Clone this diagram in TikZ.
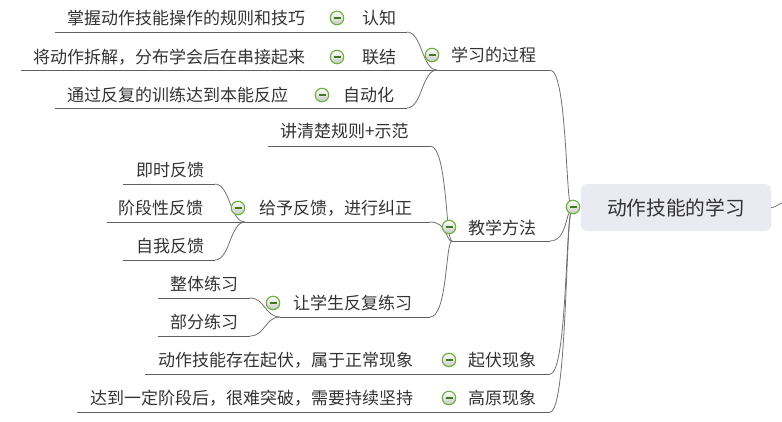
\documentclass[tikz,border=0pt]{standalone}
\usepackage{fontspec}
\newfontfamily\cjk{Noto Sans CJK SC}
\definecolor{txt}{HTML}{333333}
\definecolor{linec}{HTML}{707070}
\definecolor{ulinec}{HTML}{606060}
\definecolor{toggreen}{HTML}{6AB23A}
\definecolor{minusc}{HTML}{3F7A22}
\definecolor{rootfill}{HTML}{EAEAF2}
\begin{document}
\begin{tikzpicture}[x=1pt,y=-1pt,
  lbl/.style={anchor=west, inner sep=0pt, font=\cjk\fontsize{17}{20}\selectfont, text=txt},
  uline/.style={draw=ulinec, line width=0.9pt},
  conn/.style={draw=linec, line width=0.8pt},
  tog/.style={circle, minimum size=13.5pt, inner sep=0pt, draw=toggreen, line width=1.1pt,
    top color=white, bottom color=black!22,
    path picture={\draw[minusc, line width=1.2pt]
      ([xshift=-3.5pt]path picture bounding box.center) -- ([xshift=3.5pt]path picture bounding box.center);}},
  rootbox/.style={rounded corners=6pt, fill=rootfill, minimum width=190pt, minimum height=47pt,
    inner sep=0pt, font=\cjk\fontsize{19.7}{22}\selectfont, text=txt},
]
\useasboundingbox (0,0) rectangle (782,421);

% ---------- coordinates (underline ends, join points) ----------
\coordinate (R)  at (572,210);
\coordinate (J1) at (437,70);
\coordinate (J2) at (452,241);
\coordinate (J3) at (245,222);
\coordinate (J4) at (280,317);
\coordinate (s1E) at (550,70);
\coordinate (s2E) at (550,241);
\coordinate (s3E) at (550,374);
\coordinate (s4E) at (550,412);
\coordinate (u1L) at (55,32);   \coordinate (u1E) at (407,32);
\coordinate (u2L) at (21,70);
\coordinate (u3L) at (55,108);  \coordinate (u3E) at (407,108);
\coordinate (u4L) at (268,146); \coordinate (u4E) at (430,146);
\coordinate (u5L) at (107,222); \coordinate (u5E) at (430,222);
\coordinate (u6L) at (123,184); \coordinate (u6E) at (215,184);
\coordinate (u7L) at (123,260); \coordinate (u7E) at (215,260);
\coordinate (u8E) at (430,317);
\coordinate (u9L) at (158,298); \coordinate (u9E) at (250,298);
\coordinate (u10L) at (158,336); \coordinate (u10E) at (250,336);
\coordinate (u11L) at (145,374);
\coordinate (u12L) at (77,412);
\coordinate (off) at (782,203);

% ---------- root ----------
\node[rootbox] (root) at (676,207.5) {动作技能的学习};
\draw[conn] (root.east) .. controls +(5,0) and +(-5,1.5) .. (off);

% ---------- level 1 connectors ----------
\draw[uline] (J1) -- (s1E);
\draw[conn] (s1E) .. controls +(17.6,0) and +(-6.6,0) .. (R);
\draw[uline] (J2) -- (s2E);
\draw[conn] (s2E) .. controls +(17.6,0) and +(-6.6,0) .. (R);
\draw[uline] (u11L) -- (s3E);
\draw[conn] (s3E) .. controls +(17.6,0) and +(-6.6,0) .. (R);
\draw[uline] (u12L) -- (s4E);
\draw[conn] (s4E) .. controls +(17.6,0) and +(-6.6,0) .. (R);

% ---------- 学习的过程 ----------
\draw[uline] (u1L) -- (u1E);
\draw[conn] (u1E) .. controls +(15,0) and +(-15,0) .. (J1);
\draw[uline] (u2L) -- (J1);
\draw[uline] (u3L) -- (u3E);
\draw[conn] (u3E) .. controls +(15,0) and +(-15,0) .. (J1);

% ---------- 教学方法 ----------
\draw[uline] (u4L) -- (u4E);
\draw[conn] (u4E) .. controls +(17.6,0) and +(-6.6,0) .. (J2);
\draw[uline] (u5L) -- (u5E);
\draw[conn] (u5E) .. controls +(17.6,0) and +(-6.6,0) .. (J2);
\draw[uline] (J4) -- (u8E);
\draw[conn] (u8E) .. controls +(17.6,0) and +(-6.6,0) .. (J2);

% ---------- 给予反馈 ----------
\draw[uline] (u6L) -- (u6E);
\draw[conn] (u6E) .. controls +(15,0) and +(-15,0) .. (J3);
\draw[uline] (u7L) -- (u7E);
\draw[conn] (u7E) .. controls +(15,0) and +(-15,0) .. (J3);

% ---------- 让学生反复练习 ----------
\draw[uline] (u9L) -- (u9E);
\draw[conn] (u9E) .. controls +(15,0) and +(-15,0) .. (J4);
\draw[uline] (u10L) -- (u10E);
\draw[conn] (u10E) .. controls +(15,0) and +(-15,0) .. (J4);

% ---------- texts ----------
\node[lbl] (t1)  at (67,18)  {掌握动作技能操作的规则和技巧};
\node[lbl] (t2)  at (362,18) {认知};
\node[lbl] (t3)  at (33,57)  {将动作拆解，分布学会后在串接起来};
\node[lbl] (t4)  at (362,57) {联结};
\node[lbl] (t5)  at (67,95)  {通过反复的训练达到本能反应};
\node[lbl] (t6)  at (343,95) {自动化};
\node[lbl] (t7)  at (451,55) {学习的过程};
\node[lbl] (t8)  at (280,131) {讲清楚规则+示范};
\node[lbl] (t9)  at (136,170) {即时反馈};
\node[lbl] (t10) at (118,208) {阶段性反馈};
\node[lbl] (t11) at (136,246) {自我反馈};
\node[lbl] (t12) at (259,208) {给予反馈，进行纠正};
\node[lbl] (t13) at (170,284) {整体练习};
\node[lbl] (t14) at (170,322) {部分练习};
\node[lbl] (t15) at (293,303) {让学生反复练习};
\node[lbl] (t16) at (468,228) {教学方法};
\node[lbl] (t17) at (158,360) {动作技能存在起伏，属于正常现象};
\node[lbl] (t18) at (468,360) {起伏现象};
\node[lbl] (t19) at (90,398)  {达到一定阶段后，很难突破，需要持续坚持};
\node[lbl] (t20) at (468,398) {高原现象};

% ---------- collapse toggles ----------
\node[tog] (c0)  at (573,207) {};
\node[tog] (c1)  at (432,55)  {};
\node[tog] (c2)  at (449,227) {};
\node[tog] (c3)  at (449,360) {};
\node[tog] (c4)  at (449,398) {};
\node[tog] (c5)  at (337,18)  {};
\node[tog] (c6)  at (337,57)  {};
\node[tog] (c7)  at (322,95)  {};
\node[tog] (c8)  at (238,208) {};
\node[tog] (c9)  at (273,303) {};
\end{tikzpicture}
\end{document}
